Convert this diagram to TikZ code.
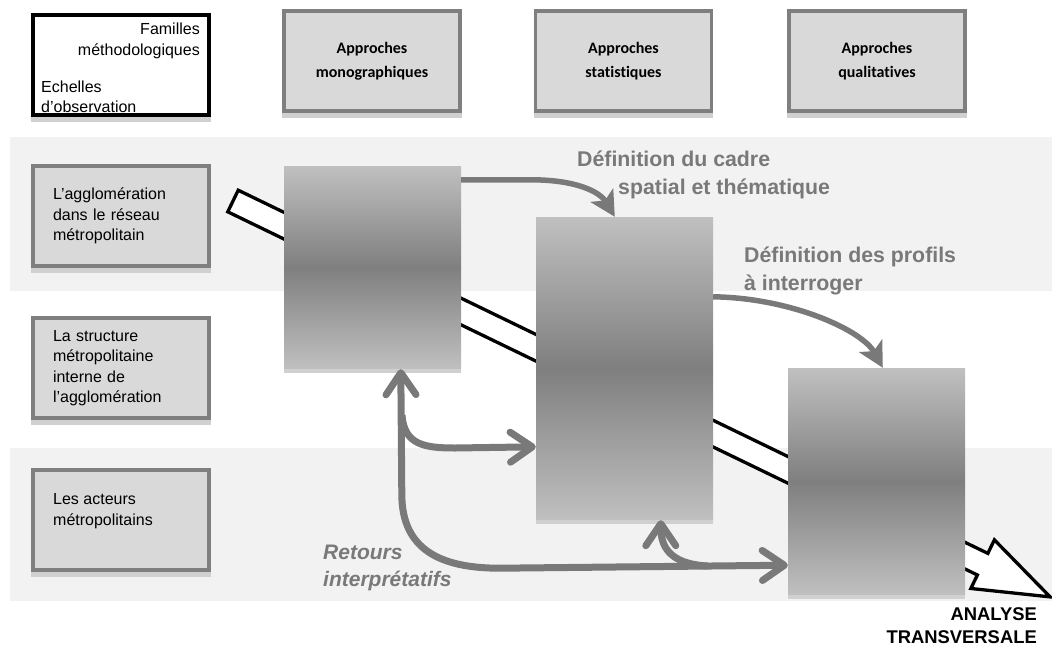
\documentclass[tikz,border=0pt]{standalone}
\usepackage{fontspec}
\setmainfont{Liberation Sans}
\newfontfamily\calibri[Ligatures=NoCommon]{Carlito}
\usetikzlibrary{arrows.meta,calc}
\definecolor{bande}{HTML}{F2F2F2}
\definecolor{fondgris}{HTML}{D9D9D9}
\definecolor{bordgris}{HTML}{7F7F7F}
\definecolor{ombre}{HTML}{D0D0D0}
\definecolor{grisclair}{HTML}{C0C0C0}
\definecolor{grisfonce}{HTML}{7F7F7F}
\definecolor{grisfleche}{HTML}{797979}
\begin{document}
\begin{tikzpicture}[x=1pt,y=-1pt,
	cadre/.style={draw=bordgris, line width=3.5pt, fill=fondgris, minimum width=176pt, minimum height=100pt, inner xsep=20pt, text width=136pt, align=left, font=\fontsize{16}{20.5}\selectfont},
	entete/.style={cadre, align=center, font=\calibri\bfseries\fontsize{16}{24}\selectfont},
	texte/.style={inner sep=0pt, font=\fontsize{16}{20.5}\selectfont},
	etape/.style={shade, top color=grisclair, bottom color=grisclair, middle color=grisfonce, minimum width=177pt, inner sep=0pt},
	titre/.style={inner sep=0pt, anchor=west, align=left, text=grisfleche, font=\bfseries\fontsize{21.3}{28.5}\selectfont},
	definition/.style={draw=grisfleche, line width=5.5pt, -{Stealth[length=25pt, width=26pt, inset=6pt]}},
	pointe/.tip={Straight Barb[length=22pt, width=30pt, round]},
	retour/.style={draw=grisfleche, line width=7pt, -pointe}]
	\useasboundingbox (0,0) rectangle (1052,646);
	\fill[bande] (10,137) rectangle (1052,291);
	\fill[bande] (10,448) rectangle (1052,601);
	\node[cadre, draw=black, fill=white] (coin) at (121,65) {};
	\node[texte, anchor=east, align=right] (familles) at (200,41) {Familles\\méthodologiques};
	\node[texte, anchor=west, align=left] (echelles) at (41,97) {Echelles\\d’observation};
	\node[entete] (mono) at (372,61) {Approches\\monographiques};
	\node[entete] (stat) at (623.5,61) {Approches\\statistiques};
	\node[entete] (qual) at (877,61) {Approches\\qualitatives};
	\node[cadre] (reseau) at (121,216) {L’agglomération\\dans le réseau\\métropolitain};
	\node[cadre] (structure) at (121,368) {La structure\\métropolitaine\\interne de\\l’agglomération};
	\node[cadre] (acteurs) at (121,520) {};
	\node[texte, anchor=west, align=left] (acteurstexte) at (53,511) {Les acteurs\\métropolitains};
	\foreach \n in {coin, mono, stat, qual, reseau, structure, acteurs}
		\fill[ombre] (\n.south west) rectangle ($(\n.south east)+(0,5)$);
	\begin{scope}[shift={(233,201)}, rotate=-25.85]
		\draw[line width=3.3pt, fill=white] (0,-12) -- (833,-12) -- (833,-27) -- (908,0) -- (833,27) -- (833,12) -- (0,12) -- cycle;
	\end{scope}
	\node[etape, minimum height=203pt] (etapeA) at (372.5,267.5) {};
	\node[etape, minimum height=303pt] (etapeB) at (624.5,368.5) {};
	\node[etape, minimum height=227pt] (etapeC) at (876.5,481.5) {};
	\foreach \n in {etapeA, etapeB, etapeC}
		\fill[ombre] (\n.south west) rectangle ($(\n.south east)+(0,4)$);
	\draw[definition] ($(etapeA.north east)+(0,14)$) -- ++(70,0) .. controls +(45,0) and +(-15,-25) .. ($(etapeB.north west)+(79,0)$);
	\draw[definition] ($(etapeB.north east)+(0,80)$) .. controls +(77,1) and +(-21,-38) .. ($(etapeC.north west)+(95,0)$);
	\coordinate (bifA) at (402,415);
	\coordinate (bifB) at (708,566);
	\draw[retour, pointe-pointe] ($(etapeA.south west)+(117,0)$) -- ++(1,125) .. controls +(0,55) and +(-60,0) .. ++(98,74) -- ($(etapeC.south west)+(0,-30)$);
	\draw[retour] (bifA) .. controls +(2,30) and +(-30,0) .. ++(53,33) -- ($(etapeB.north west)+(0,230)$);
	\draw[retour] (bifB) .. controls +(-40,-2) and +(0,25) .. ($(etapeB.south west)+(125,0)$);
	\node[titre] (cadrespatial) at (577,175) {Définition du cadre\\\hspace*{41pt}spatial et thématique};
	\node[titre] (profils) at (744,271) {Définition des profils\\à interroger};
	\node[titre, font=\bfseries\itshape\fontsize{21}{27}\selectfont] (retours) at (323,568) {Retours\\interprétatifs};
	\node[inner sep=0pt, anchor=east, align=right, font=\bfseries\fontsize{18.4}{23}\selectfont] (analyse) at (1037,626) {ANALYSE\\TRANSVERSALE};
\end{tikzpicture}
\end{document}
